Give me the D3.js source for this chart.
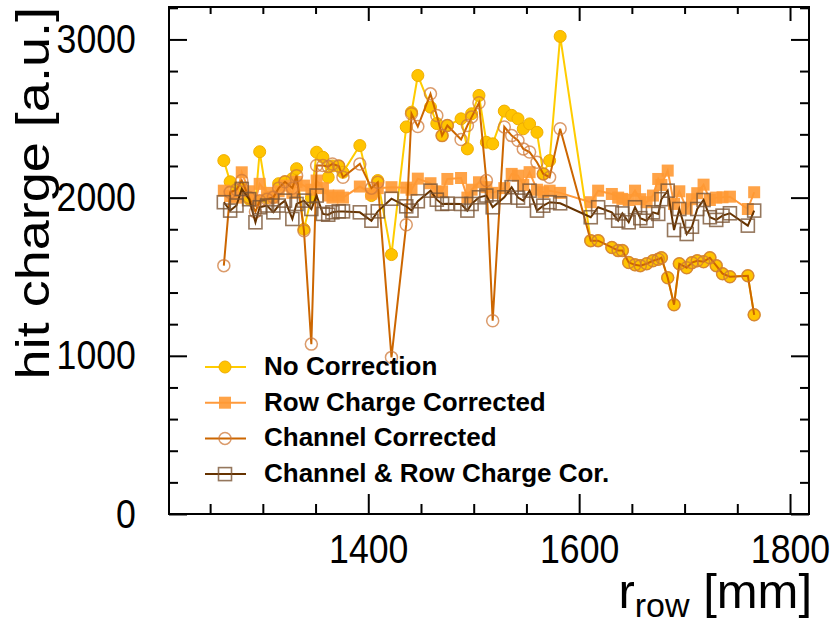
<!DOCTYPE html>
<html>
<head>
<meta charset="utf-8">
<script src="https://d3js.org/d3.v7.min.js"></script>
<style>
  body { margin: 0; background: #fff; }
  text { font-family: "Liberation Sans", Arial, Helvetica, sans-serif; }
</style>
</head>
<body>
<div class="chart"></div>
<script>
// row radius [mm]
const rowR = [1263, 1269, 1275, 1280, 1287, 1293, 1297, 1304, 1310, 1315,
  1321, 1328, 1332, 1339, 1346, 1351, 1357, 1362, 1366, 1372,
  1376, 1392, 1403, 1409, 1422, 1436, 1441, 1447, 1459, 1465,
  1470, 1475, 1488, 1494, 1498, 1505, 1512, 1518, 1529, 1536,
  1542, 1547, 1553, 1560, 1566, 1572, 1582, 1611, 1618, 1631,
  1637, 1641, 1647, 1653, 1658, 1664, 1670, 1675, 1678, 1684,
  1690, 1695, 1702, 1707, 1712, 1718, 1724, 1730, 1736, 1743,
  1760, 1766];

const noCorr = [2234, 2100, 2040, 2060, 1990, 1980, 2290, 2000, 2010, 2088,
  2100, 2120, 2183, 1800, 2000, 2287, 2255, 2128, 2200, 2200,
  2160, 2329, 2013, 2108, 1640, 2447, 2540, 2772, 2572, 2468,
  2392, 2456, 2498, 2308, 2530, 2646, 2350, 2340, 2547, 2520,
  2498, 2435, 2466, 2413, 2150, 2234, 3019, 1728, 1728, 1685,
  1665, 1665, 1590, 1575, 1570, 1582, 1601, 1610, 1620, 1494,
  1323, 1582, 1557, 1589, 1601, 1595, 1620, 1570, 1519, 1500,
  1506, 1259];

const rowCorr = [2044, 2010, 2000, 2160, 2040, 1980, 2087, 2030, 2000, 2040,
  2076, 2030, 2100, 2076, 2050, 2108, 2060, 2013, 2000, 2013,
  2000, 2070, 2025, 2060, 2066, 2063, 2050, 2120, 2091, 2036,
  2040, 2118, 2124, 2000, 2050, 2097, 2066, 2030, 2060, 2150,
  2139, 2080, 2161, 2050, 2034, 2044, 2030, 1971, 2044, 2023,
  2000, 1992, 1985, 2044, 1990, 1971, 2013, 2118, 2080, 2171,
  1960, 2040, 1930, 1990, 2028, 2082, 1985, 2000, 2002, 2006,
  1928, 2034];

const chanCorr = [1570, 2034, 2050, 2108, 2000, 1910, 1980, 1990, 2002, 2060,
  2100, 2060, 2139, 1791, 1074, 2203, 2203, 2196, 2213, 2200,
  2129, 2213, 2060, 2097, 990, 1829, 2530, 2449, 2656, 2519,
  2392, 2456, 2367, 2456, 2509, 2600, 2108, 1222, 2447, 2392,
  2361, 2308, 2288, 2224, 2150, 2129, 2435, 1728, 1728, 1685,
  1665, 1665, 1590, 1575, 1570, 1582, 1601, 1610, 1620, 1494,
  1323, 1582, 1557, 1589, 1601, 1595, 1620, 1570, 1519, 1500,
  1506, 1259];

const chanRowCorr = [1971, 1918, 1950, 2055, 1990, 1844, 1939, 1950, 1907, 1950,
  1981, 1865, 1960, 1981, 1928, 2013, 1897, 1892, 1907, 1913,
  1913, 1907, 1854, 1913, 1993, 1945, 1918, 1977, 2044, 1987,
  1960, 1962, 1960, 1918, 1960, 2002, 2013, 1939, 2002, 2066,
  2000, 1981, 2044, 1918, 1949, 1971, 1964, 1876, 1939, 1907,
  1854, 1900, 1844, 1939, 1870, 1854, 1907, 1897, 1990, 2044,
  1795, 1928, 1770, 1816, 1928, 1985, 1876, 1859, 1886, 1901,
  1823, 1918];

const seriesNames = ['No Correction', 'Row Charge Corrected', 'Channel Corrected', 'Channel & Row Charge Cor.'];
const xMajor = [1400, 1600, 1800];
const yMajor = [0, 1000, 2000, 3000];

// frame geometry
const margin = ({top: 7, right: 25, bottom: 112, left: 169});
const width = 834 - margin.left - margin.right;
const height = 626 - margin.top - margin.bottom;

const svg = d3.select('.chart')
  .append('svg')
  .attr('width', 834)
  .attr('height', 626)
  .append('g')
  .attr('transform', 'translate(' + margin.left + ',' + margin.top + ')');

const xScale = d3.scaleLinear().domain([1211, 1818]).range([0, width]);
const yScale = d3.scaleLinear().domain([0, 3205]).range([height, 0]);

const xMinor = d3.range(1250, 1818, 50).filter(v => !xMajor.includes(v));
const yMinor = d3.range(0, 3205, 200).filter(v => !yMajor.includes(v));

// axes, ROOT style: ticks pointing inward on all four sides
function tickAxis(axis, scale, vals, size, pad) {
  return axis(scale).tickValues(vals).tickSizeInner(-size).tickSizeOuter(0)
    .tickPadding(pad).tickFormat(d3.format('d'));
}

svg.append('g').attr('class', 'axis x-minor')
  .attr('transform', `translate(0, ${height})`)
  .call(tickAxis(d3.axisBottom, xScale, xMinor, 10, 0).tickFormat(''));
svg.append('g').attr('class', 'axis x-axis')
  .attr('transform', `translate(0, ${height})`)
  .call(tickAxis(d3.axisBottom, xScale, xMajor, 20, 20));
svg.append('g').attr('class', 'axis x-top')
  .call(tickAxis(d3.axisTop, xScale, xMinor, 7, 0).tickFormat(''));
svg.append('g').attr('class', 'axis x-top')
  .call(tickAxis(d3.axisTop, xScale, xMajor, 14, 0).tickFormat(''));

svg.append('g').attr('class', 'axis y-minor')
  .call(tickAxis(d3.axisLeft, yScale, yMinor, 9, 0).tickFormat(''));
svg.append('g').attr('class', 'axis y-axis')
  .call(tickAxis(d3.axisLeft, yScale, yMajor, 18, 38));
svg.append('g').attr('class', 'axis y-right')
  .attr('transform', `translate(${width}, 0)`)
  .call(tickAxis(d3.axisRight, yScale, yMinor, 9, 0).tickFormat(''));
svg.append('g').attr('class', 'axis y-right')
  .attr('transform', `translate(${width}, 0)`)
  .call(tickAxis(d3.axisRight, yScale, yMajor, 18, 0).tickFormat(''));

svg.selectAll('.axis .domain').remove();
svg.selectAll('.axis line').attr('stroke', '#000').attr('stroke-width', 2);
// labels look a bit condensed in the original
svg.selectAll('.axis text')
  .attr('fill', '#000')
  .attr('font-size', 41)
  .attr('transform', 'scale(0.87, 1)');

// frame
svg.append('rect')
  .attr('width', width)
  .attr('height', height)
  .attr('fill', 'none')
  .attr('stroke', '#000')
  .attr('stroke-width', 2);

// axis titles
const xt = svg.append('text')
  .attr('x', width + 3)
  .attr('y', height + 94)
  .attr('text-anchor', 'end')
  .attr('font-size', 49);
xt.append('tspan').text('r');
xt.append('tspan').attr('font-size', 34).attr('dy', 9).text('row');
xt.append('tspan').attr('dy', -9).text(' [mm]');

svg.append('text')
  .attr('transform', 'translate(-120, 0) rotate(-90) scale(1.15, 1)')
  .attr('text-anchor', 'end')
  .attr('font-size', 47)
  .text('hit charge [a.u.]');

// series
const styles = [
  {data: noCorr, line: '#ffcc00', mark: 'dot', color: '#ffc400'},
  {data: rowCorr, line: '#ff9a3c', mark: 'fsq', color: '#ff9933'},
  {data: chanCorr, line: '#cc6600', mark: 'ocirc', color: '#cf7a3a'},
  {data: chanRowCorr, line: '#663300', mark: 'osq', color: '#7a5535'}
];

const line = d3.line()
  .x(d => xScale(d[0]))
  .y(d => yScale(d[1]));

function drawMarker(g, kind, color) {
  if (kind == 'dot') {
    g.append('circle').attr('r', 6).attr('fill', color).attr('stroke', '#f0ad00').attr('stroke-width', 1);
  } else if (kind == 'fsq') {
    g.append('rect').attr('x', -6).attr('y', -6).attr('width', 12).attr('height', 12)
      .attr('fill', color).attr('opacity', 0.9);
  } else if (kind == 'ocirc') {
    g.append('circle').attr('r', 6).attr('fill', 'none').attr('stroke', color)
      .attr('stroke-width', 1.5).attr('opacity', 0.75);
  } else {
    g.append('rect').attr('x', -6.5).attr('y', -6.5).attr('width', 13).attr('height', 13)
      .attr('fill', 'none').attr('stroke', color).attr('stroke-width', 1.6).attr('opacity', 0.8);
  }
}

styles.forEach(s => {
  const pts = rowR.map((r, i) => [r, s.data[i]]);
  svg.append('path')
    .datum(pts)
    .attr('fill', 'none')
    .attr('stroke', s.line)
    .attr('stroke-width', 2)
    .attr('d', line);
  svg.append('g')
    .selectAll('g')
    .data(pts)
    .enter()
    .append('g')
    .attr('transform', d => `translate(${xScale(d[0])}, ${yScale(d[1])})`)
    .each(function() { drawMarker(d3.select(this), s.mark, s.color); });
});

// legend
const legend = svg.append('g');
styles.forEach((s, i) => {
  const y = 360 + i * 35.7;
  legend.append('line')
    .attr('x1', 36).attr('x2', 77)
    .attr('y1', y).attr('y2', y)
    .attr('stroke', s.line).attr('stroke-width', 2);
  const g = legend.append('g').attr('transform', `translate(56, ${y})`);
  drawMarker(g, s.mark, s.color);
  legend.append('text')
    .attr('x', 95)
    .attr('y', y + 8)
    .attr('font-size', 26)
    .attr('font-weight', 'bold')
    .text(seriesNames[i]);
});
</script>
</body>
</html>
